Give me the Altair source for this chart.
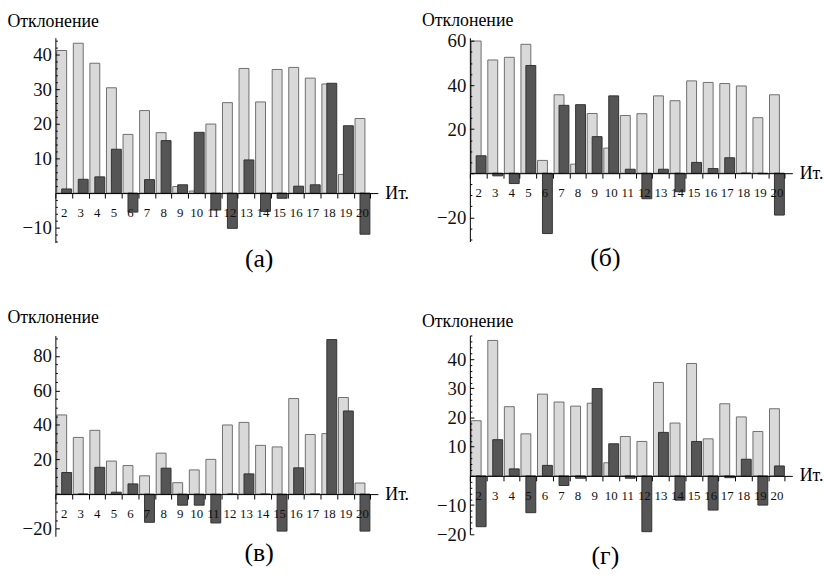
import altair as alt
import pandas as pd

SERIF = "Liberation Serif"

iters = list(range(2, 21))

a_light = [41.3, 43.4, 37.6, 30.5, 17.0, 23.9, 17.5, 1.9, 0.6, 20.0, 26.2, 36.1, 26.4, 35.8, 36.4, 33.3, 31.6, 5.4, 21.6]
a_dark = [1.2, 4.0, 4.7, 12.7, -5.5, 3.9, 15.2, 2.4, 17.6, -4.9, -10.2, 9.6, -5.3, -1.5, 2.0, 2.4, 31.8, 19.5, -11.9]
b_light = [60.0, 51.4, 52.6, 58.5, 5.8, 35.6, 4.1, 27.1, 11.4, 26.2, 27.0, 35.1, 32.9, 41.9, 41.2, 40.7, 39.6, 25.2, 35.6]
b_dark = [7.9, -1.2, -4.7, 48.9, -27.4, 30.8, 31.1, 16.6, 35.1, 1.8, -11.6, 1.8, -8.4, 4.9, 2.1, 7.0, 0.0, -0.3, -19.0]
v_light = [45.8, 32.8, 36.9, 19.1, 16.5, 10.6, 23.7, 6.6, 14.0, 20.1, 40.0, 41.5, 28.2, 27.3, 55.3, 34.5, 35.0, 55.9, 6.4]
v_dark = [12.5, 0.0, 15.5, 1.1, 5.9, -16.3, 15.0, -6.4, -6.4, -16.7, 0.0, 11.7, 0.0, -21.4, 15.2, 0.0, 89.4, 48.1, -21.4]
g_light = [18.9, 46.4, 23.7, 14.4, 28.0, 25.3, 23.9, 24.9, 4.5, 13.5, 11.8, 32.0, 18.1, 38.5, 12.7, 24.7, 20.2, 15.2, 23.0]
g_dark = [-17.4, 12.4, 2.4, -12.6, 3.6, -3.3, -0.8, 29.9, 11.0, -0.8, -19.1, 14.9, -8.3, 11.8, -11.7, -0.6, 5.7, -10.0, 3.4]

a_labels = [-10, 10, 20, 30, 40]
b_labels = [-20, 20, 40, 60]
v_labels = [-20, 20, 40, 60, 80]
g_labels = [-20, -10, 10, 20, 30, 40]

a_ticks = list(range(-14, 45, 2))
b_ticks = list(range(-30, 61, 5))
v_ticks = list(range(-20, 91, 5))
g_ticks = list(range(-20, 49, 2))


def panel(light, dark, ymin, ymax, label_vals, tick_vals, major, width, height,
          caption, cap_dx, cap_offset, title_y):
    df = pd.DataFrame({"it": iters, "light": light, "dark": dark})
    yscale = alt.Scale(domain=[ymin, ymax], nice=False)
    xscale = alt.Scale(paddingInner=0, paddingOuter=0.23, align=0)
    off = -height * (0 - ymin) / (ymax - ymin)
    xaxis = alt.Axis(
        title="Ит.", labelAngle=0, labelFont=SERIF, labelFontSize=13,
        labelColor="#111111", labelPadding=9, labelOverlap=False,
        tickBand="extent", tickSize=5, zindex=1,
        tickColor="black", domainColor="black", offset=off, grid=False,
        titleX=width + 7, titleY=0, titleAlign="left", titleBaseline="middle",
        titleAngle=0, titleFont=SERIF, titleFontSize=18, titleFontWeight="normal",
        titleColor="black",
    )
    x = alt.X("it:O", scale=xscale, axis=xaxis)
    light_layer = alt.Chart(df).mark_bar(
        width=10, xOffset=-2, fill="#d9d9d9", stroke="#6e6e6e", strokeWidth=1
    ).encode(
        x=x,
        y=alt.Y("light:Q", scale=yscale, axis=alt.Axis(
            title="Отклонение", values=label_vals, ticks=False,
            labelFont=SERIF, labelFontSize=19, labelColor="#111111",
            labelPadding=4, domainColor="black", grid=False, zindex=1,
            titleAngle=0, titleX=-49, titleY=title_y, titleAlign="left",
            titleBaseline="middle", titleFont=SERIF, titleFontSize=18,
            titleFontWeight="normal", titleColor="black",
        )),
    )
    dark_layer = alt.Chart(df).mark_bar(
        width=10, xOffset=3, fill="#555555", stroke="#333333", strokeWidth=1
    ).encode(
        x=x,
        y=alt.Y("dark:Q", scale=yscale, axis=alt.Axis(
            orient="right", offset=-width, values=tick_vals, labels=False,
            domain=False, title="", grid=False, tickColor="black", zindex=1,
            tickSize={"condition": {"test": f"datum.value % {major} === 0", "value": 4}, "value": 2},
        )),
    )
    return alt.layer(light_layer, dark_layer).resolve_axis(y="independent").properties(
        width=width, height=height,
        title=alt.TitleParams(
            text=caption, orient="bottom", anchor="middle", dx=cap_dx, offset=cap_offset,
            font=SERIF, fontSize=26, fontWeight="normal", color="black",
        ),
    )


pa = panel(a_light, a_dark, -14.3, 45, a_labels, a_ticks, 10, 326, 207, "(а)", 43, 4, -16)
pb = panel(b_light, b_dark, -31, 61.5, b_labels, b_ticks, 20, 326, 206, "(б)", -26, 4, -17.5)
pv = panel(v_light, v_dark, -24.4, 91.8, v_labels, v_ticks, 20, 326, 203, "(в)", 43, 2, -17.7)
pg = panel(g_light, g_dark, -20, 48.1, g_labels, g_ticks, 10, 326, 201, "(г)", -26, -1, -14.4)

row1 = alt.hconcat(pa, pb, spacing=12)
row2 = alt.hconcat(pv, pg, spacing=12)
chart = alt.vconcat(row1, row2, spacing=37).properties(
    padding={"left": 7, "top": 8, "right": 0, "bottom": 0},
    background="white",
).configure(font=SERIF).configure_view(stroke=None).configure_axis(
    labelFont=SERIF, titleFont=SERIF
).configure_title(font=SERIF)

chart.save("out.html", embed_options={"renderer": "svg", "actions": False})
